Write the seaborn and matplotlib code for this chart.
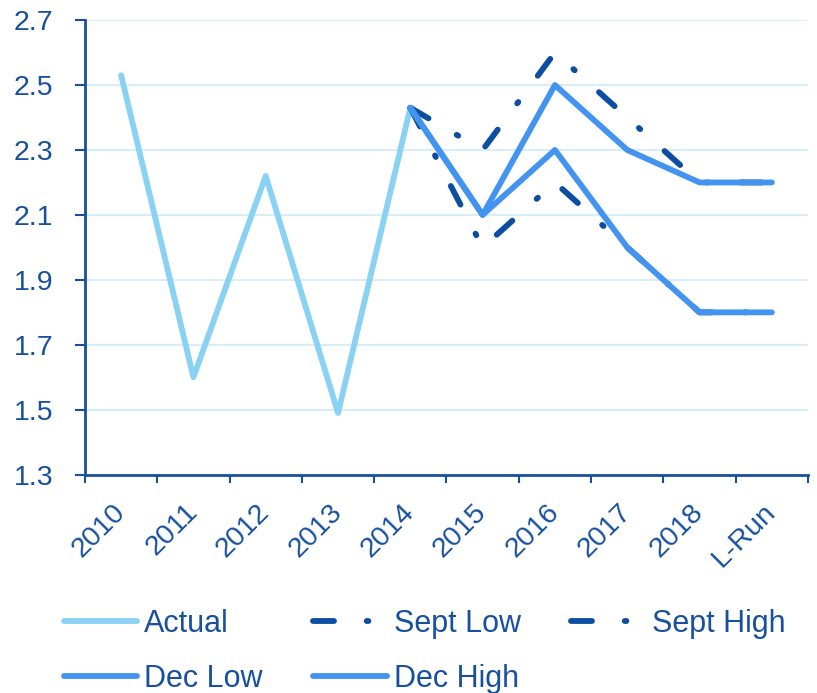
import pandas as pd
import seaborn as sns
import matplotlib.pyplot as plt
from matplotlib.ticker import FixedLocator

TEXT = "#17509E"
sns.set_theme(style="white")
plt.rcParams["font.family"] = ["Liberation Sans", "DejaVu Sans"]
plt.rcParams["text.color"] = TEXT
plt.rcParams["axes.edgecolor"] = TEXT
plt.rcParams["xtick.color"] = TEXT
plt.rcParams["ytick.color"] = TEXT
plt.rcParams["lines.solid_capstyle"] = "round"
plt.rcParams["lines.dash_capstyle"] = "round"

categories = ["2010", "2011", "2012", "2013", "2014", "2015", "2016", "2017", "2018", "L-Run"]
actual = [2.53, 1.60, 2.22, 1.49, 2.43]
sept_low = [2.43, 2.00, 2.20, 2.00, 1.80, 1.80]
sept_high = [2.43, 2.30, 2.60, 2.40, 2.20, 2.20]
dec_low = [2.43, 2.10, 2.30, 2.00, 1.80, 1.80]
dec_high = [2.43, 2.10, 2.50, 2.30, 2.20, 2.20]
y_ticks = [1.3, 1.5, 1.7, 1.9, 2.1, 2.3, 2.5, 2.7]

series = {
    "Actual": (categories[:5], actual),
    "Sept Low": (categories[4:], sept_low),
    "Sept High": (categories[4:], sept_high),
    "Dec Low": (categories[4:], dec_low),
    "Dec High": (categories[4:], dec_high),
}
rows = []
for name, (cats, vals) in series.items():
    for c, v in zip(cats, vals):
        rows.append({"series": name, "pos": categories.index(c), "value": v})
df = pd.DataFrame(rows)

palette = {"Actual": "#8AD2F3", "Sept Low": "#0B4EA2", "Sept High": "#0B4EA2",
           "Dec Low": "#4394F0", "Dec High": "#4394F0"}
dash_dot = (3.6, 5.6, 0.3, 5.6)
dashes = {"Actual": "", "Sept Low": dash_dot, "Sept High": dash_dot,
          "Dec Low": "", "Dec High": ""}

fig = plt.figure(figsize=(8.17, 6.93), dpi=100)
ax = fig.add_axes([0.104, 0.315, 0.885, 0.656])

for name in ["Actual", "Sept Low", "Sept High", "Dec Low", "Dec High"]:
    sub = df[df.series == name]
    sns.lineplot(data=sub, x="pos", y="value", color=palette[name], lw=4.2,
                 ax=ax, label=name, zorder=3)
    line = ax.get_lines()[-1]
    if dashes[name]:
        line.set_dashes(dashes[name])

ax.set_xlim(-0.5, len(categories) - 0.5)
ax.set_ylim(1.3, 2.7)
ax.set_yticks(y_ticks)
ax.set_yticklabels([f"{t:.1f}" for t in y_ticks])
ax.set_xticks(range(len(categories)))
ax.set_xticklabels(categories, rotation=45, ha="right", va="center",
                   rotation_mode="anchor")
ax.xaxis.set_minor_locator(FixedLocator([i - 0.5 for i in range(len(categories) + 1)]))
ax.tick_params(axis="x", which="major", length=0, pad=24, labelsize=20.5)
ax.tick_params(axis="x", which="minor", length=6, width=1.5, color=TEXT, bottom=True)
ax.tick_params(axis="y", length=7, width=1.5, left=True, labelsize=20.5, pad=16)
ax.grid(True, axis="y", color="#CDEBF8", lw=1.2, zorder=0)
for s in ["top", "right"]:
    ax.spines[s].set_visible(False)
for s in ["left", "bottom"]:
    ax.spines[s].set_linewidth(2)
    ax.spines[s].set_color(TEXT)
ax.set_xlabel(None)
ax.set_ylabel(None)

handles, labels = ax.get_legend_handles_labels()
ax.legend_.remove()
order = ["Actual", "Dec Low", "Sept Low", "Dec High", "Sept High"]
idx = [labels.index(o) for o in order]
fig.legend([handles[i] for i in idx], order, loc="upper left",
           bbox_to_anchor=(0.078, 0.121), borderaxespad=0, borderpad=0,
           ncol=3, frameon=False, fontsize=22, handlelength=2.4,
           handletextpad=0.23, columnspacing=1.66, labelspacing=0.81,
           labelcolor=TEXT)

fig.savefig("out.png", dpi=100)
